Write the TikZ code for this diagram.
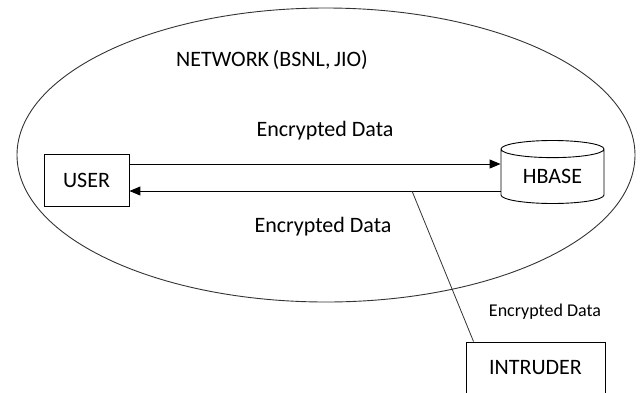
\documentclass[tikz,border=0pt]{standalone}
\usepackage{fontspec}
\setmainfont{Carlito}
\usepackage{tikz}
\usetikzlibrary{positioning,arrows.meta,calc,shapes.geometric}

\begin{document}
\begin{tikzpicture}[x=1pt, y=-1pt,
  box/.style={draw, line width=0.9pt, inner sep=0pt, font=\fontsize{22}{26}\selectfont},
  db/.style={draw, line width=0.9pt, cylinder, shape border rotate=90, aspect=0.29,
    inner sep=0pt, font=\fontsize{22}{26}\selectfont},
  lbl/.style={inner sep=0pt, font=\fontsize{22}{26}\selectfont},
  arr/.style={-{Triangle[length=11pt, width=9pt]}, line width=1pt}]
\clip (0,0) rectangle (640,392);
% network cloud
\draw[line width=0.9pt, black!80] (326,155) ellipse [x radius=309, y radius=147];
\node[lbl] (net) at (272,60) {NETWORK\hspace{3.5pt}(BSNL,\hspace{3.5pt}JIO)};
% parties
\node[box, minimum width=85pt, minimum height=52pt] (user) at (86.5,180) {USER};
\node[db, minimum width=103pt, minimum height=63pt] (hbase) at (552.5,176.5) {HBASE};
\node[box, minimum width=139pt, minimum height=52pt] (intruder) at (535.5,368) {INTRUDER};
% traffic
\draw[arr] ([yshift=16pt]user.east) -- ([yshift=16pt]user.east -| hbase.west);
\draw[arr] ([yshift=-11pt]user.east -| hbase.west) -- ([yshift=-11pt]user.east);
\node[lbl] (up) at (325,131) {Encrypted Data};
\node[lbl] (down) at (323,227) {Encrypted Data};
% eavesdropper
\coordinate (tap) at (412,191);
\draw[line width=0.8pt, black!80] (tap) -- ([xshift=8pt]intruder.north west);
\node[lbl, font=\fontsize{18}{21}\selectfont] (leak) at (545,312) {Encrypted Data};
\end{tikzpicture}
\end{document}
